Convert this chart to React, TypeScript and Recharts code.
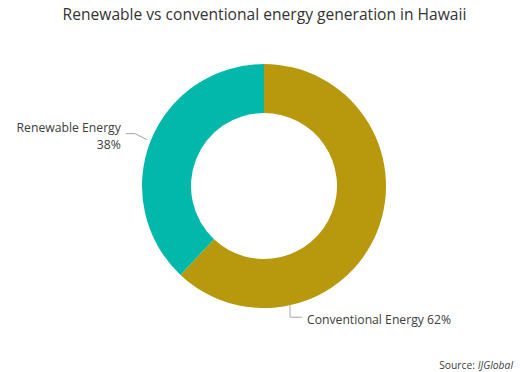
import React from "react";
import { PieChart, Pie, Cell } from "recharts";

const categories = ["Conventional Energy", "Renewable Energy"];
const shares = [62, 38];
const colors = ["#B8990E", "#02B8AA"];

const data = categories.map((name, i) => ({ name, value: shares[i] }));

const RAD = Math.PI / 180;
const FONT = "'Open Sans', sans-serif";
const TEXT = "#404040";
const LINE = "#A6A6A6";

const renderLabel = (props: any) => {
  const { cx, cy, outerRadius, midAngle, index, name, value } = props;
  if (index === 0) {
    // Excel-style: anchor near the bottom of the ring
    const a = -77.7;
    const x = cx + outerRadius * Math.cos(a * RAD);
    const y = cy - outerRadius * Math.sin(a * RAD);
    return (
      <g>
        <path d={`M${x},${y} L${x},${y + 12} L${x + 12},${y + 12}`} fill="none" stroke={LINE} strokeWidth={1} />
        <text x={x + 17} y={y + 14} fontFamily={FONT} fontSize={12.2} fill={TEXT} dominantBaseline="central">
          {`${name} ${value}%`}
        </text>
      </g>
    );
  }
  const r = outerRadius + 4;
  const x = cx + r * Math.cos(midAngle * RAD);
  const y = cy - r * Math.sin(midAngle * RAD);
  return (
    <g>
      <path d={`M${x},${y} L${x - 12},${y - 6} L${x - 21},${y - 6}`} fill="none" stroke={LINE} strokeWidth={1} />
      <text x={x - 26} y={y - 12} fontFamily={FONT} fontSize={12.2} fill={TEXT} textAnchor="end" dominantBaseline="central">
        {name}
      </text>
      <text x={x - 26} y={y + 5} fontFamily={FONT} fontSize={12.2} fill={TEXT} textAnchor="end" dominantBaseline="central">
        {`${value}%`}
      </text>
    </g>
  );
};

export default function App() {
  return (
    <div style={{ position: "absolute", left: 0, top: 0, width: 520, height: 372, background: "#fff" }}>
      <PieChart width={520} height={372} margin={{ top: 0, right: 0, bottom: 0, left: 0 }}>
        <text x={264.5} y={14} textAnchor="middle" dominantBaseline="central" fontFamily={FONT} fontSize={15.6} fill="#333333">
          Renewable vs conventional energy generation in Hawaii
        </text>
        <Pie
          data={data}
          dataKey="value"
          nameKey="name"
          cx={264}
          cy={186}
          innerRadius={73}
          outerRadius={122}
          startAngle={90}
          endAngle={-270}
          stroke="none"
          label={renderLabel}
          labelLine={false}
          isAnimationActive={false}
        >
          {data.map((d, i) => (
            <Cell key={d.name} fill={colors[i]} />
          ))}
        </Pie>
        <text x={513} y={365} textAnchor="end" dominantBaseline="central" fontFamily={FONT} fontSize={10.3} fill={TEXT}>
          Source: <tspan fontStyle="italic">IJGlobal</tspan>
        </text>
      </PieChart>
    </div>
  );
}
